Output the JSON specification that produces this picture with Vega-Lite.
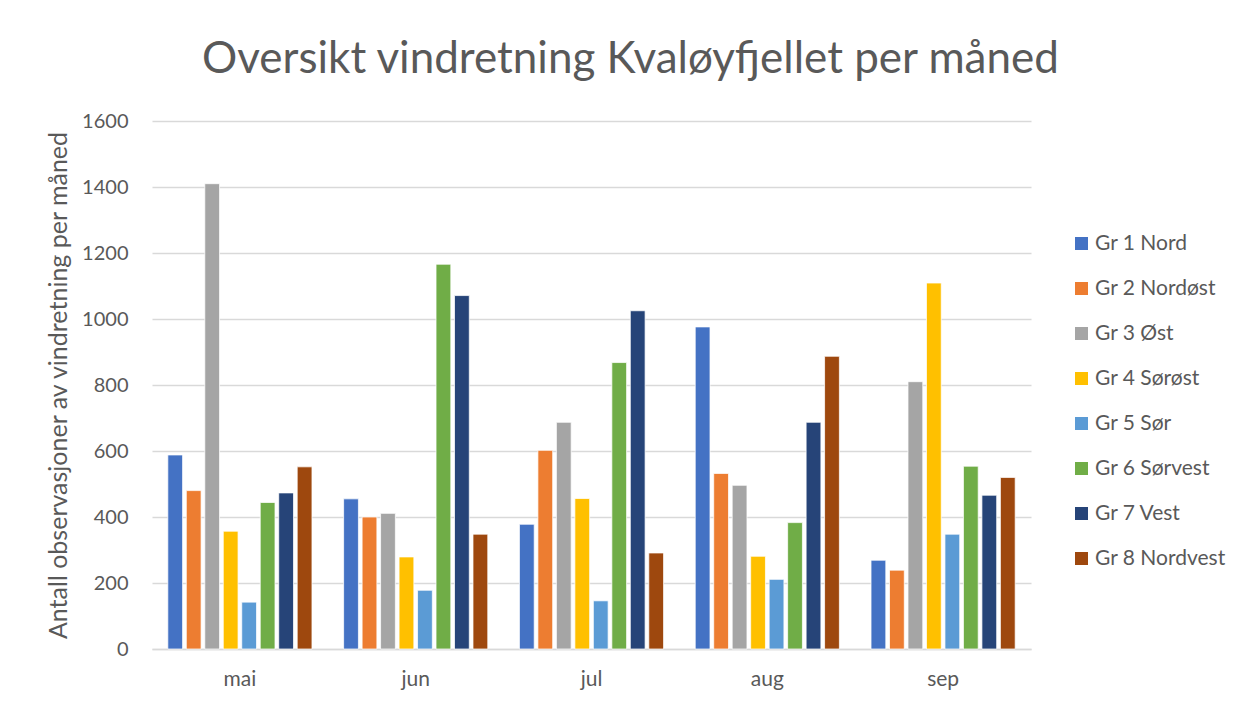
{
  "$schema": "https://vega.github.io/schema/vega-lite/v6.json",
  "autosize": {"type": "none"},
  "width": 879,
  "height": 528,
  "padding": {"left": 152, "top": 121, "right": 213, "bottom": 57},
  "background": "white",
  "title": {
    "text": "Oversikt vindretning Kvaløyfjellet per måned",
    "font": "Lato",
    "fontSize": 44,
    "fontWeight": "normal",
    "color": "#595959",
    "anchor": "middle",
    "dx": 39,
    "offset": 29
  },
  "data": {
    "values": [
      {"maaned": "mai", "gruppe": "Gr 1 Nord", "antall": 588},
      {"maaned": "mai", "gruppe": "Gr 2 Nordøst", "antall": 480},
      {"maaned": "mai", "gruppe": "Gr 3 Øst", "antall": 1410},
      {"maaned": "mai", "gruppe": "Gr 4 Sørøst", "antall": 357},
      {"maaned": "mai", "gruppe": "Gr 5 Sør", "antall": 142},
      {"maaned": "mai", "gruppe": "Gr 6 Sørvest", "antall": 444},
      {"maaned": "mai", "gruppe": "Gr 7 Vest", "antall": 473},
      {"maaned": "mai", "gruppe": "Gr 8 Nordvest", "antall": 552},
      {"maaned": "jun", "gruppe": "Gr 1 Nord", "antall": 455},
      {"maaned": "jun", "gruppe": "Gr 2 Nordøst", "antall": 400},
      {"maaned": "jun", "gruppe": "Gr 3 Øst", "antall": 411},
      {"maaned": "jun", "gruppe": "Gr 4 Sørøst", "antall": 279},
      {"maaned": "jun", "gruppe": "Gr 5 Sør", "antall": 178},
      {"maaned": "jun", "gruppe": "Gr 6 Sørvest", "antall": 1166},
      {"maaned": "jun", "gruppe": "Gr 7 Vest", "antall": 1071},
      {"maaned": "jun", "gruppe": "Gr 8 Nordvest", "antall": 348},
      {"maaned": "jul", "gruppe": "Gr 1 Nord", "antall": 378},
      {"maaned": "jul", "gruppe": "Gr 2 Nordøst", "antall": 602},
      {"maaned": "jul", "gruppe": "Gr 3 Øst", "antall": 687},
      {"maaned": "jul", "gruppe": "Gr 4 Sørøst", "antall": 456},
      {"maaned": "jul", "gruppe": "Gr 5 Sør", "antall": 146},
      {"maaned": "jul", "gruppe": "Gr 6 Sørvest", "antall": 868},
      {"maaned": "jul", "gruppe": "Gr 7 Vest", "antall": 1025},
      {"maaned": "jul", "gruppe": "Gr 8 Nordvest", "antall": 291},
      {"maaned": "aug", "gruppe": "Gr 1 Nord", "antall": 976},
      {"maaned": "aug", "gruppe": "Gr 2 Nordøst", "antall": 532},
      {"maaned": "aug", "gruppe": "Gr 3 Øst", "antall": 496},
      {"maaned": "aug", "gruppe": "Gr 4 Sørøst", "antall": 281},
      {"maaned": "aug", "gruppe": "Gr 5 Sør", "antall": 211},
      {"maaned": "aug", "gruppe": "Gr 6 Sørvest", "antall": 383},
      {"maaned": "aug", "gruppe": "Gr 7 Vest", "antall": 687},
      {"maaned": "aug", "gruppe": "Gr 8 Nordvest", "antall": 887},
      {"maaned": "sep", "gruppe": "Gr 1 Nord", "antall": 269},
      {"maaned": "sep", "gruppe": "Gr 2 Nordøst", "antall": 239},
      {"maaned": "sep", "gruppe": "Gr 3 Øst", "antall": 810},
      {"maaned": "sep", "gruppe": "Gr 4 Sørøst", "antall": 1109},
      {"maaned": "sep", "gruppe": "Gr 5 Sør", "antall": 348},
      {"maaned": "sep", "gruppe": "Gr 6 Sørvest", "antall": 554},
      {"maaned": "sep", "gruppe": "Gr 7 Vest", "antall": 466},
      {"maaned": "sep", "gruppe": "Gr 8 Nordvest", "antall": 520}
    ]
  },
  "mark": {"type": "bar", "stroke": "white", "strokeWidth": 0.75},
  "encoding": {
    "x": {
      "field": "maaned",
      "type": "nominal",
      "sort": ["mai", "jun", "jul", "aug", "sep"],
      "scale": {"paddingInner": 0.18, "paddingOuter": 0.09},
      "axis": {
        "title": null,
        "labelAngle": 0,
        "labelFont": "Lato",
        "labelFontSize": 21,
        "labelColor": "#595959",
        "labelPadding": 19,
        "ticks": false,
        "domain": true,
        "domainColor": "#D9D9D9",
        "domainWidth": 1.5,
        "grid": false
      }
    },
    "xOffset": {
      "field": "gruppe",
      "type": "nominal",
      "scale": {"paddingInner": 0.2, "paddingOuter": 0}
    },
    "y": {
      "field": "antall",
      "type": "quantitative",
      "scale": {"domain": [0, 1600], "nice": false},
      "axis": {
        "title": "Antall observasjoner av vindretning per måned",
        "titleFont": "Lato",
        "titleFontSize": 25,
        "titleFontWeight": "normal",
        "titleColor": "#595959",
        "titlePadding": 10,
        "values": [0, 200, 400, 600, 800, 1000, 1200, 1400, 1600],
        "format": "d",
        "labelOverlap": false,
        "labelFont": "Lato",
        "labelFontSize": 20,
        "labelColor": "#595959",
        "labelPadding": 24,
        "ticks": false,
        "domain": false,
        "grid": true,
        "gridColor": "#D9D9D9",
        "gridWidth": 1.5
      }
    },
    "color": {
      "field": "gruppe",
      "type": "nominal",
      "scale": {
        "domain": ["Gr 1 Nord", "Gr 2 Nordøst", "Gr 3 Øst", "Gr 4 Sørøst", "Gr 5 Sør", "Gr 6 Sørvest", "Gr 7 Vest", "Gr 8 Nordvest"],
        "range": ["#4472C4", "#ED7D31", "#A5A5A5", "#FFC000", "#5B9BD5", "#70AD47", "#264478", "#9E480E"]
      },
      "legend": {
        "title": null,
        "orient": "none",
        "legendX": 919,
        "legendY": 112,
        "symbolType": "square",
        "symbolSize": 169,
        "symbolStrokeWidth": 0,
        "labelFont": "Lato",
        "labelFontSize": 21,
        "labelColor": "#595959",
        "labelOffset": 3,
        "rowPadding": 23
      }
    }
  },
  "config": {
    "view": {"stroke": null}
  }
}
